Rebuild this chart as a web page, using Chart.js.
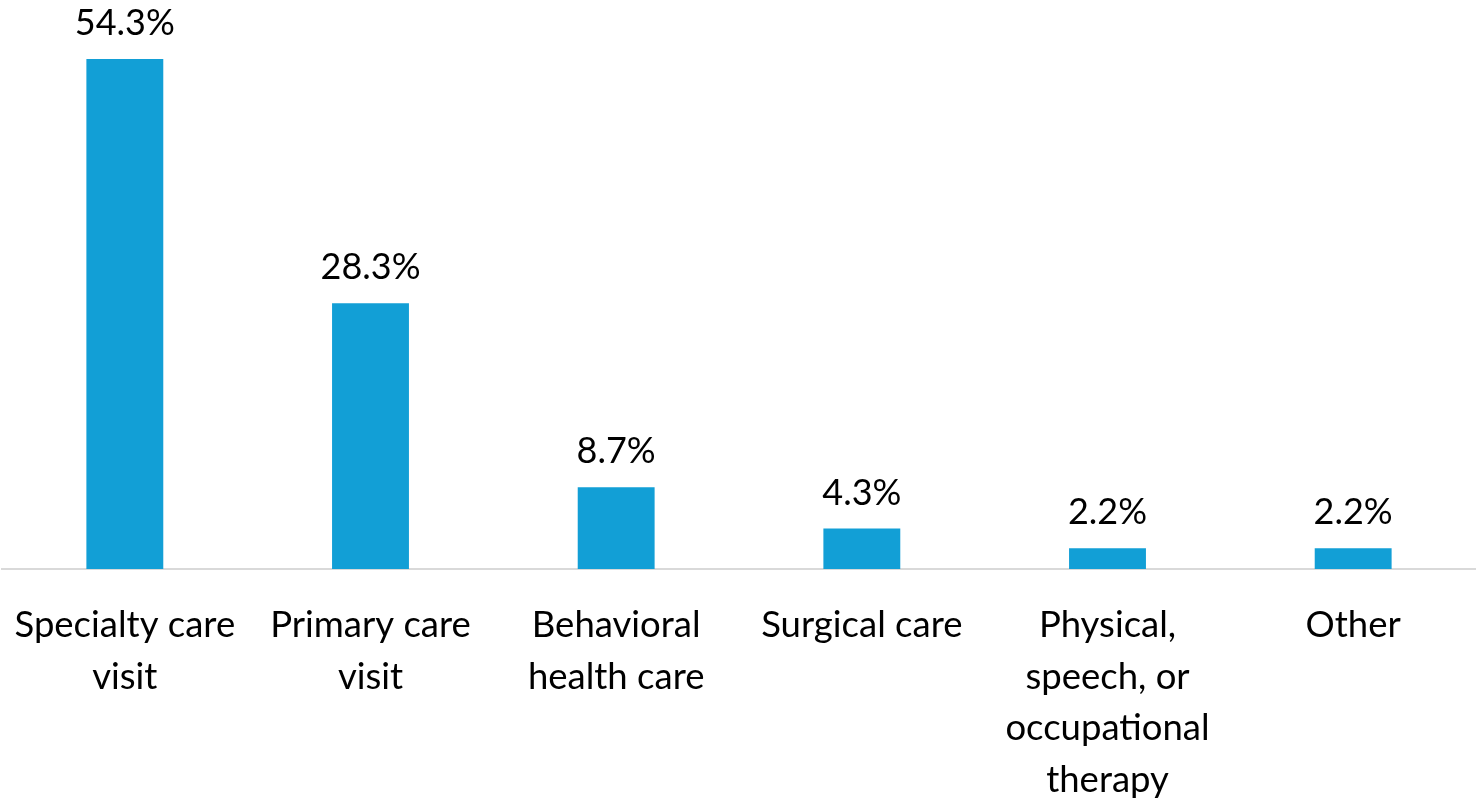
<!DOCTYPE html>
<html>
<head>
<meta charset="utf-8">
<script src="https://cdn.jsdelivr.net/npm/chart.js@4/dist/chart.umd.min.js"></script>
<style>
  html, body { margin: 0; padding: 0; background: #fff; }
  #wrap { width: 1476px; height: 804px; position: relative; }
</style>
</head>
<body>
<div id="wrap"><canvas id="chart"></canvas></div>
<script>
const categories = [
  ['Specialty care', 'visit'],
  ['Primary care', 'visit'],
  ['Behavioral', 'health care'],
  ['Surgical care'],
  ['Physical,', 'speech, or', 'occupational', 'therapy'],
  ['Other']
];
const shares = [54.3, 28.3, 8.7, 4.3, 2.2, 2.2];

const FONT = 'Lato, "Liberation Sans", sans-serif';

// value labels above each bar
const barLabels = {
  id: 'barLabels',
  afterDatasetsDraw(chart) {
    const ctx = chart.ctx;
    const meta = chart.getDatasetMeta(0);
    ctx.save();
    ctx.font = '36px ' + FONT;
    ctx.fillStyle = '#000';
    ctx.textAlign = 'center';
    ctx.textBaseline = 'alphabetic';
    meta.data.forEach((bar, i) => {
      ctx.fillText(shares[i].toFixed(1) + '%', bar.x, bar.y - 24);
    });
    ctx.restore();
  }
};

new Chart(document.getElementById('chart'), {
  type: 'bar',
  data: {
    labels: categories,
    datasets: [{
      data: shares,
      backgroundColor: '#129FD6',
      barPercentage: 0.313,
      categoryPercentage: 1
    }]
  },
  options: {
    responsive: true,
    maintainAspectRatio: false,
    animation: false,
    layout: { padding: { top: 5.5, left: 2, right: 0, bottom: 0 } },
    plugins: { legend: { display: false }, tooltip: { enabled: false } },
    scales: {
      y: { display: false, min: 0, max: 60 },
      x: {
        grid: { display: false, drawTicks: false },
        border: { display: true, color: '#D9D9D9', width: 2 },
        afterFit: s => { s.height = 235; s.paddingLeft = 0; s.paddingRight = 0; },
        ticks: {
          autoSkip: false,
          maxRotation: 0,
          minRotation: 0,
          padding: 30,
          color: '#000',
          font: { family: FONT, size: 36.5, lineHeight: 1.42 }
        }
      }
    }
  },
  plugins: [barLabels]
});
</script>
</body>
</html>
